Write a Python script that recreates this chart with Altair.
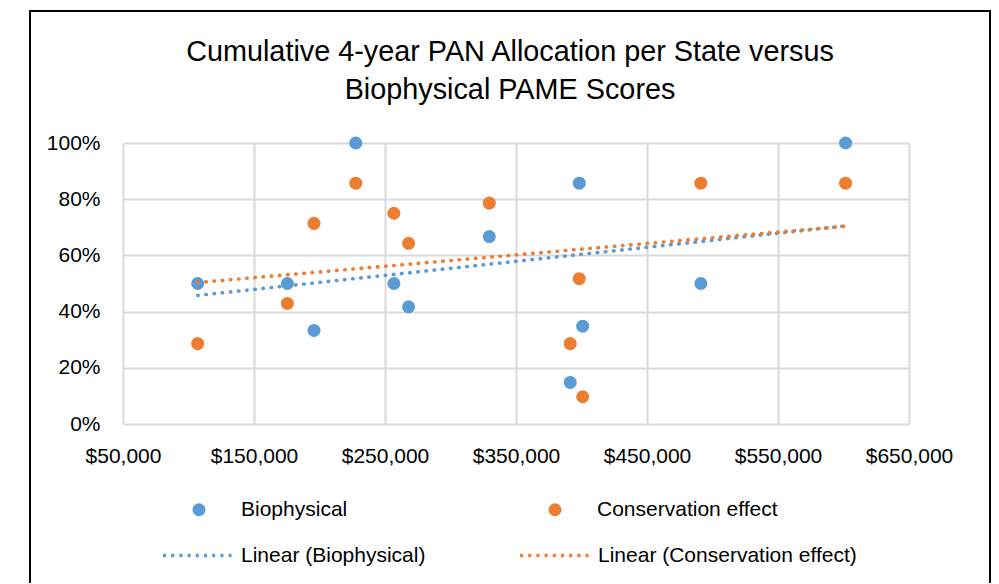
import altair as alt
import pandas as pd

# ---- data ----
allocation = [107000, 175500, 195800, 227700, 256800, 268000,
              329600, 398300, 400900, 391400, 491100, 601600]
biophysical = [0.500, 0.500, 0.333, 1.000, 0.500, 0.417,
               0.667, 0.857, 0.348, 0.148, 0.500, 1.000]
conservation = [0.286, 0.429, 0.714, 0.857, 0.750, 0.643,
                0.786, 0.517, 0.097, 0.286, 0.857, 0.857]
series_names = ["Biophysical", "Conservation effect"]
trend_names = ["Linear (Biophysical)", "Linear (Conservation effect)"]
colors = ["#5B9BD5", "#ED7D31"]
x_ticks = [50000, 150000, 250000, 350000, 450000, 550000, 650000]
y_ticks = [0.0, 0.2, 0.4, 0.6, 0.8, 1.0]
title_lines = ["Cumulative 4-year PAN Allocation per State versus",
               "Biophysical PAME Scores"]

FONT = "Liberation Sans"

rows = []
for a, b, c in zip(allocation, biophysical, conservation):
    rows.append({"allocation": a, "score": b, "series": series_names[0]})
    rows.append({"allocation": a, "score": c, "series": series_names[1]})
df = pd.DataFrame(rows)

W, H = 786, 281

x_enc = alt.X("allocation:Q",
              scale=alt.Scale(domain=[x_ticks[0], x_ticks[-1]], nice=False, zero=False),
              axis=alt.Axis(values=x_ticks, format="$,.0f", title=None,
                            labelFlush=False, labelOverlap=False))
y_enc = alt.Y("score:Q",
              scale=alt.Scale(domain=[0, 1], nice=False),
              axis=alt.Axis(values=y_ticks, format=".0%", title=None,
                            labelFlush=False, labelOverlap=False))

frame = alt.Chart(pd.DataFrame({"k": [0]})).mark_rect(
    fill="transparent", stroke="#000000", strokeWidth=2
).encode(
    x=alt.value(-93), x2=alt.value(867), y=alt.value(-132), y2=alt.value(470)
)

points = alt.Chart(df).mark_circle(size=170, opacity=1).encode(
    x=x_enc,
    y=y_enc,
    fill=alt.Fill("series:N",
                  scale=alt.Scale(domain=series_names, range=colors),
                  legend=alt.Legend(title=None, orient="none", legendX=65.5, legendY=356,
                                    direction="horizontal", columns=2, columnPadding=197,
                                    symbolType="circle", symbolSize=170, symbolStrokeWidth=0,
                                    symbolOpacity=1, labelOffset=31.5, padding=0,
                                    labelLimit=500)),
)

lines = alt.Chart(df).transform_regression(
    "allocation", "score", groupby=["series"]
).transform_calculate(
    trend='"Linear (" + datum.series + ")"'
).mark_line(strokeWidth=3.6, strokeDash=[0.5, 7.7], strokeCap="round").encode(
    x="allocation:Q",
    y="score:Q",
    stroke=alt.Stroke("trend:N",
                      scale=alt.Scale(domain=trend_names, range=colors),
                      legend=alt.Legend(title=None, orient="none", legendX=38, legendY=402,
                                        direction="horizontal", columns=2, columnPadding=92,
                                        symbolType="stroke", symbolSize=4900,
                                        symbolStrokeWidth=3.6, symbolDash=[3, 5.2],
                                        labelOffset=6, clipHeight=21, padding=0,
                                        labelLimit=500)),
)

chart = alt.layer(frame, points, lines).properties(
    width=W,
    height=H,
    background="white",
    autosize=alt.AutoSizeParams(type="none"),
    padding={"left": 115, "top": 135, "right": 82, "bottom": 159},
    title=alt.TitleParams(text=title_lines, font=FONT, fontSize=28.8, fontWeight="normal",
                          color="#000000", anchor="middle", offset=0, lineHeight=38,
                          dx=-6, dy=95),
).configure_axis(
    grid=True, gridColor="#d9d9d9", gridWidth=2, domain=False, ticks=False, tickSize=0,
    labelFont=FONT, labelFontSize=21, labelColor="#000000",
).configure_axisX(
    labelPadding=21
).configure_axisY(
    labelPadding=23
).configure_legend(
    labelFont=FONT, labelFontSize=21, labelColor="#000000"
).configure_view(
    strokeOpacity=0
)

chart.save("out.html", embed_options={"renderer": "svg", "actions": False})
